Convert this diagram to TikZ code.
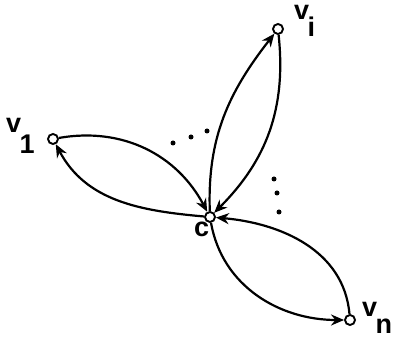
\documentclass[tikz,border=0pt]{standalone}
\usepackage{fontspec}
\setmainfont{Liberation Sans}
\usetikzlibrary{arrows.meta}
\newcommand{\vlab}[2]{v\kern-1.5pt\raisebox{-#2}{#1}}

\begin{document}
\begin{tikzpicture}[x=1pt, y=1pt,
    vert/.style={circle, draw, fill=white, line width=1.9pt, minimum size=10pt, inner sep=0pt},
    lab/.style={font=\fontsize{27}{27}\selectfont\bfseries, inner sep=0pt, anchor=base west},
    arc/.style={line width=2.2pt, -{Stealth[length=13pt, width=11pt]}},
    dot/.style={circle, fill, minimum size=5pt, inner sep=0pt}]
    \useasboundingbox (0,0) rectangle (395,339);

    % the centre and the outer vertices
    \node[vert] (c)  at (210,122) {};
    \node[vert] (v1) at (53,200)  {};
    \node[vert] (vi) at (278,310) {};
    \node[vert] (vn) at (350,19)  {};

    \node[lab] (lc)  at (194,102) {c};
    \node[lab] (lv1) at (6,206)   {\vlab{1}{21pt}};
    \node[lab] (lvi) at (294,319) {\vlab{i}{17pt}};
    \node[lab] (lvn) at (362,22)  {\vlab{n}{16pt}};

    % two arcs per petal
    \draw[arc] (v1) to[out=10, in=118] (c);
    \draw[arc] (c) to[out=175, in=-62] (v1);
    \draw[arc] (c) to[out=92, in=232] (vi);
    \draw[arc] (vi) to[out=-84, in=45] (c);
    \draw[arc] (vn) to[out=95, in=-5] (c);
    \draw[arc] (c) to[out=-80, in=180] (vn);

    % the elided petals
    \node[dot] (d1) at (173,196) {};
    \node[dot] (d2) at (191,202) {};
    \node[dot] (d3) at (207,208) {};
    \node[dot] (d4) at (274,160) {};
    \node[dot] (d5) at (277,146) {};
    \node[dot] (d6) at (279,127) {};
\end{tikzpicture}
\end{document}
